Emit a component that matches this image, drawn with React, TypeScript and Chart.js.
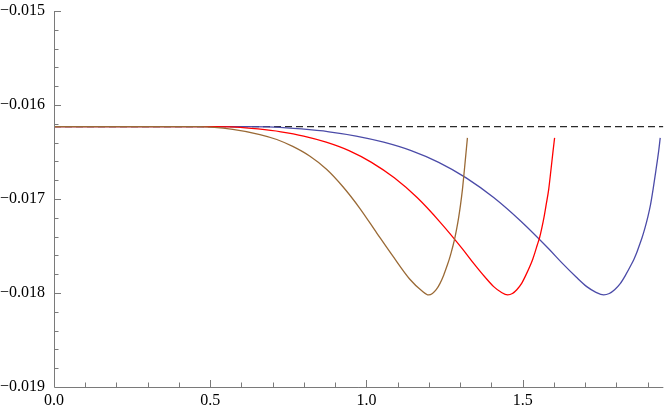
import React, { useEffect, useRef } from "react";
import { Chart, registerables } from "chart.js";

Chart.register(...registerables);

// ---- data ----
const flatLevel = -0.01623;
const dashedX = [0, 1.95];

const brownX = [0, 0.42, 0.467, 0.572, 0.659, 0.713, 0.764, 0.818, 0.873, 0.924, 0.978, 1.033, 1.084, 1.138, 1.176, 1.199, 1.211, 1.223, 1.235, 1.247, 1.259, 1.265, 1.271, 1.277, 1.283, 1.289, 1.295, 1.301, 1.307, 1.313, 1.319, 1.323];
const brownY = [-0.01623, -0.01623, -0.01623, -0.016259, -0.016314, -0.016367, -0.016441, -0.016543, -0.016686, -0.016867, -0.017096, -0.017362, -0.017606, -0.017851, -0.017973, -0.01802, -0.018005, -0.017965, -0.0179, -0.01781, -0.0177, -0.01764, -0.01757, -0.017495, -0.01741, -0.01731, -0.017195, -0.01706, -0.0169, -0.0167, -0.01649, -0.01635];

const redX = [0, 0.508, 0.581, 0.653, 0.726, 0.799, 0.871, 0.944, 1.016, 1.089, 1.162, 1.234, 1.307, 1.343, 1.379, 1.408, 1.43, 1.452, 1.467, 1.481, 1.496, 1.51, 1.525, 1.532, 1.539, 1.546, 1.554, 1.561, 1.568, 1.575, 1.583, 1.59, 1.597, 1.602];
const redY = [-0.01623, -0.01623, -0.016235, -0.016255, -0.016285, -0.01633, -0.016395, -0.016485, -0.01661, -0.016775, -0.016985, -0.01724, -0.01753, -0.017685, -0.01783, -0.017935, -0.01799, -0.01802, -0.018005, -0.017965, -0.0179, -0.01781, -0.0177, -0.01764, -0.01757, -0.017495, -0.01741, -0.01731, -0.017195, -0.01706, -0.0169, -0.0167, -0.01649, -0.01635];

const blueX = [0, 0.616, 0.704, 0.792, 0.88, 0.967, 1.055, 1.143, 1.231, 1.319, 1.407, 1.495, 1.583, 1.627, 1.671, 1.706, 1.733, 1.759, 1.777, 1.794, 1.812, 1.829, 1.847, 1.856, 1.865, 1.873, 1.882, 1.891, 1.9, 1.909, 1.917, 1.926, 1.935, 1.94];
const blueY = [-0.01623, -0.01623, -0.016235, -0.016255, -0.016285, -0.01633, -0.016395, -0.016485, -0.01661, -0.016775, -0.016985, -0.01724, -0.01753, -0.017685, -0.01783, -0.017935, -0.01799, -0.01802, -0.018005, -0.017965, -0.0179, -0.01781, -0.0177, -0.01764, -0.01757, -0.017495, -0.01741, -0.01731, -0.017195, -0.01706, -0.0169, -0.0167, -0.01649, -0.01635];

const xTicks = [0, 0.5, 1.0, 1.5];
const xTickLabels = ["0.0", "0.5", "1.0", "1.5"];
const xMinorTicks = [0.1, 0.2, 0.3, 0.4, 0.6, 0.7, 0.8, 0.9, 1.1, 1.2, 1.3, 1.4, 1.6, 1.7, 1.8, 1.9];
const yTicks = [-0.019, -0.018, -0.017, -0.016, -0.015];
const yTickLabels = ["\u22120.019", "\u22120.018", "\u22120.017", "\u22120.016", "\u22120.015"];
const yMinorTicks = [
  -0.0188, -0.0186, -0.0184, -0.0182,
  -0.0178, -0.0176, -0.0174, -0.0172,
  -0.0168, -0.0166, -0.0164, -0.0162,
  -0.0158, -0.0156, -0.0154, -0.0152,
];

const X_MIN = 0;
const X_MAX = 1.95;
const Y_MIN = -0.019;
const Y_MAX = -0.015;

const AXIS_COLOR = "#7a7a7a";
const FONT_FAMILY = "'Liberation Serif', 'Times New Roman', Times, serif";

function pts(xs: number[], ys: number[]) {
  return xs.map((x, i) => ({ x, y: ys[i] }));
}

const axesPlugin = {
  id: "mmaAxes",
  afterDraw(chart: any) {
    const { ctx, chartArea, scales } = chart;
    const xs = scales.x;
    const ys = scales.y;
    const left = chartArea.left;
    const bottom = chartArea.bottom;
    ctx.save();
    ctx.strokeStyle = AXIS_COLOR;
    ctx.lineWidth = 1;
    ctx.beginPath();
    ctx.moveTo(left + 0.5, chartArea.top);
    ctx.lineTo(left + 0.5, bottom + 0.5);
    ctx.lineTo(chartArea.right, bottom + 0.5);
    ctx.stroke();
    ctx.beginPath();
    xTicks.forEach((v) => {
      if (v === X_MIN) return;
      const px = Math.round(xs.getPixelForValue(v)) + 0.5;
      ctx.moveTo(px, bottom);
      ctx.lineTo(px, bottom - 7);
    });
    xMinorTicks.forEach((v) => {
      const px = Math.round(xs.getPixelForValue(v)) + 0.5;
      ctx.moveTo(px, bottom);
      ctx.lineTo(px, bottom - 4.5);
    });
    yTicks.forEach((v) => {
      if (v === Y_MIN) return;
      const py = Math.round(ys.getPixelForValue(v)) + 0.5;
      ctx.moveTo(left, py);
      ctx.lineTo(left + 7, py);
    });
    yMinorTicks.forEach((v) => {
      const py = Math.round(ys.getPixelForValue(v)) + 0.5;
      ctx.moveTo(left, py);
      ctx.lineTo(left + 4.5, py);
    });
    ctx.stroke();
    ctx.restore();
  },
};

export default function App() {
  const canvasRef = useRef<HTMLCanvasElement | null>(null);

  useEffect(() => {
    if (!canvasRef.current) return;
    const font = { family: FONT_FAMILY, size: 16 };
    const lineCommon = {
      borderWidth: 1.3,
      pointRadius: 0,
      cubicInterpolationMode: "monotone",
      fill: false,
    };
    const chart = new Chart(canvasRef.current, {
      type: "line",
      data: {
        datasets: [
          {
            label: "asymptote",
            data: dashedX.map((x) => ({ x, y: flatLevel })),
            borderColor: "#2a2a2a",
            borderWidth: 1.3,
            borderDash: [7, 4],
            pointRadius: 0,
            fill: false,
            order: 4,
          },
          { label: "blue", data: pts(blueX, blueY), borderColor: "#4b4ba8", order: 3, ...lineCommon },
          { label: "red", data: pts(redX, redY), borderColor: "#ff0000", order: 2, ...lineCommon },
          { label: "brown", data: pts(brownX, brownY), borderColor: "#9a6a36", order: 1, ...lineCommon },
        ],
      },
      options: {
        animation: false,
        responsive: true,
        maintainAspectRatio: false,
        layout: { padding: { top: 11, right: 0, left: 0, bottom: 0 } },
        plugins: {
          legend: { display: false },
          tooltip: { enabled: false },
        },
        scales: {
          x: {
            type: "linear",
            min: X_MIN,
            max: X_MAX,
            border: { display: false },
            grid: { display: false, drawTicks: false },
            afterBuildTicks: (scale: any) => {
              scale.ticks = xTicks.map((v) => ({ value: v }));
            },
            afterFit: (scale: any) => {
              scale.height = 24;
              scale.paddingLeft = 0;
              scale.paddingRight = 0;
            },
            ticks: {
              autoSkip: false,
              maxRotation: 0,
              padding: 4,
              color: "#000",
              font,
              callback: (v: any) => {
                const i = xTicks.indexOf(Number(v));
                return i >= 0 ? xTickLabels[i] : "";
              },
            },
          },
          y: {
            type: "linear",
            min: Y_MIN,
            max: Y_MAX,
            border: { display: false },
            grid: { display: false, drawTicks: false },
            afterBuildTicks: (scale: any) => {
              scale.ticks = yTicks.map((v) => ({ value: v }));
            },
            afterFit: (scale: any) => {
              scale.width = 54;
              scale.paddingTop = 0;
              scale.paddingBottom = 0;
            },
            ticks: {
              autoSkip: false,
              padding: 9,
              color: "#000",
              font,
              callback: (v: any) => {
                const i = yTicks.findIndex((t) => Math.abs(t - Number(v)) < 1e-9);
                return i >= 0 ? yTickLabels[i] : "";
              },
            },
          },
        },
      },
      plugins: [axesPlugin],
    } as any);
    if ((document as any).fonts && (document as any).fonts.ready) {
      (document as any).fonts.ready.then(() => {
        try { chart.update(); } catch (e) { /* destroyed */ }
      });
    }
    return () => chart.destroy();
  }, []);

  return (
    <div style={{ position: "fixed", left: 0, top: 0, width: 664, height: 411, background: "#fff" }}>
      <canvas ref={canvasRef} />
    </div>
  );
}
